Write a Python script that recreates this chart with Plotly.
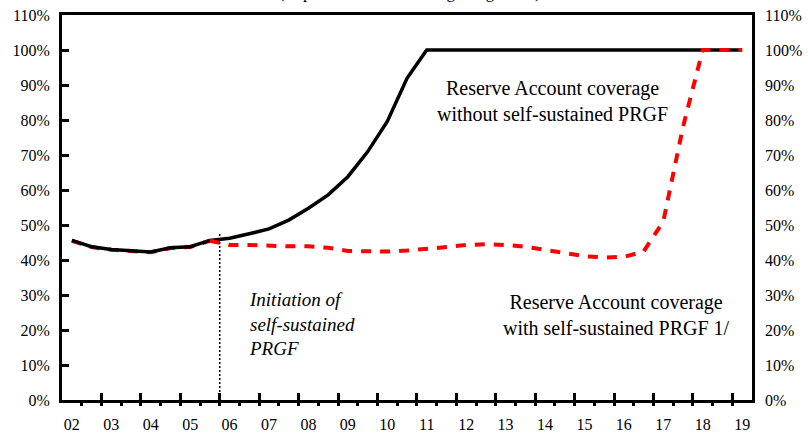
import plotly.graph_objects as go

# ---------------- data ----------------
periods = [2.0, 2.5, 3.0, 3.5, 4.0, 4.5, 5.0, 5.5, 6.0, 6.5, 7.0, 7.5, 8.0, 8.5,
           9.0, 9.5, 10.0, 10.5, 11.0, 11.5, 12.0, 12.5, 13.0, 13.5, 14.0, 14.5,
           15.0, 15.5, 16.0, 16.5, 17.0, 17.5, 18.0, 18.5, 19.0]

without_self_sustained = [45.6, 43.8, 43.0, 42.7, 42.3, 43.5, 43.8, 45.6, 46.2, 47.5,
                          48.9, 51.4, 54.8, 58.6, 63.8, 70.9, 79.6, 91.9, 100.0, 100.0,
                          100.0, 100.0, 100.0, 100.0, 100.0, 100.0, 100.0, 100.0, 100.0,
                          100.0, 100.0, 100.0, 100.0, 100.0, 100.0]

with_self_sustained = [45.5, 43.7, 42.9, 42.6, 42.2, 43.4, 43.7, 45.5, 44.3, 44.3,
                       44.0, 43.9, 43.9, 43.5, 42.6, 42.4, 42.4, 42.7, 43.1, 43.7,
                       44.3, 44.5, 44.3, 43.8, 42.9, 41.9, 41.1, 40.7, 40.9, 42.4,
                       51.0, 78.0, 100.0, 100.0, 100.0]

year_labels = ["02", "03", "04", "05", "06", "07", "08", "09", "10", "11",
               "12", "13", "14", "15", "16", "17", "18", "19"]
label_positions = [2, 3, 4, 5, 6, 7, 8, 9, 10, 11, 12, 13, 14, 15, 16, 17, 18, 19]

y_ticks = [0, 10, 20, 30, 40, 50, 60, 70, 80, 90, 100, 110]
y_tick_text = ["0%", "10%", "20%", "30%", "40%", "50%", "60%", "70%", "80%",
               "90%", "100%", "110%"]

initiation_period = 5.75
initiation_top = 48
split_index = 7  # red series drawn on top of black from 05.5 onwards

FONT = "Liberation Serif, Times New Roman, serif"

# tick boundaries between semi-annual categories
boundaries = [p + 0.25 for p in periods[:-1]]
major_boundaries = [p + 0.75 for p in label_positions[:-1]]

fig = go.Figure()

# red (early part, under black)
fig.add_trace(go.Scatter(
    x=periods[:split_index + 1], y=with_self_sustained[:split_index + 1],
    mode="lines", line=dict(color="#FF0000", width=4, dash="10px,9px"),
    showlegend=False, hoverinfo="skip"))

# black
fig.add_trace(go.Scatter(
    x=periods, y=without_self_sustained, mode="lines",
    line=dict(color="black", width=3.5), showlegend=False))

# red (on top)
fig.add_trace(go.Scatter(
    x=periods[split_index:], y=with_self_sustained[split_index:],
    mode="lines", line=dict(color="#FF0000", width=4, dash="10px,9px"),
    showlegend=False))

# empty traces so the overlay axes are drawn
fig.add_trace(go.Scatter(x=[], y=[], xaxis="x2", yaxis="y", showlegend=False))
fig.add_trace(go.Scatter(x=[], y=[], xaxis="x3", yaxis="y", showlegend=False))
fig.add_trace(go.Scatter(x=[], y=[], xaxis="x", yaxis="y2", showlegend=False))

xr = [1.75, 19.25]
fig.update_layout(
    template="none",
    width=808, height=433,
    margin=dict(l=62, r=56, t=15, b=33, autoexpand=False),
    paper_bgcolor="white", plot_bgcolor="white",
    font=dict(family=FONT, size=16, color="black"),
    showlegend=False,
    xaxis=dict(range=xr, tickmode="array", tickvals=label_positions,
               ticktext=year_labels, ticks="", showgrid=False, zeroline=False,
               showline=True, linecolor="black", linewidth=3, mirror=True,
               automargin=False,
               ticklabelstandoff=8, tickfont=dict(size=16, family=FONT)),
    xaxis2=dict(range=xr, overlaying="x", anchor="y", side="bottom",
                tickmode="array", tickvals=boundaries, ticks="outside",
                ticklen=5, tickwidth=3, tickcolor="black", automargin=False,
                showticklabels=False, showgrid=False, zeroline=False,
                showline=False),
    xaxis3=dict(range=xr, overlaying="x", anchor="y", side="bottom",
                tickmode="array", tickvals=major_boundaries, ticks="inside",
                ticklen=7, tickwidth=3, tickcolor="black", automargin=False,
                showticklabels=False, showgrid=False, zeroline=False,
                showline=False),
    yaxis=dict(range=[0, 110], tickmode="array", tickvals=y_ticks,
               ticktext=y_tick_text, ticks="inside", ticklen=7, tickwidth=3,
               tickcolor="black", showgrid=False, zeroline=False,
               showline=True, linecolor="black", linewidth=3, mirror=True,
               automargin=False,
               ticklabelstandoff=6, tickfont=dict(size=16, family=FONT)),
    yaxis2=dict(range=[0, 110], overlaying="y", side="right", anchor="x",
                tickmode="array", tickvals=y_ticks, ticktext=y_tick_text,
                ticks="", showgrid=False, zeroline=False, showline=False,
                automargin=False,
                ticklabelstandoff=12, tickfont=dict(size=16, family=FONT)),
)

# dotted vertical line marking initiation
fig.add_shape(type="line", xref="x", yref="y",
              x0=initiation_period, x1=initiation_period, y0=0, y1=initiation_top,
              line=dict(color="black", width=1.5, dash="2px,2px"))

fig.add_annotation(text="Reserve Account coverage<br>without self-sustained PRGF",
                   xref="x", yref="y", x=14.19, y=85.4, showarrow=False,
                   font=dict(family=FONT, size=20, color="black"), align="center")
fig.add_annotation(text="Reserve Account coverage<br>with self-sustained PRGF 1/",
                   xref="x", yref="y", x=15.82, y=24.4, showarrow=False,
                   font=dict(family=FONT, size=20, color="black"), align="center")
fig.add_annotation(text="<i>Initiation of<br>self-sustained<br>PRGF</i>",
                   xref="x", yref="y", x=6.43, y=21.6, xanchor="left",
                   showarrow=False, align="left",
                   font=dict(family=FONT, size=19, color="black"))
# title, mostly cut off at the top edge of the picture
fig.add_annotation(text="(In percent of outstanding obligations)",
                   xref="paper", yref="paper", x=0.505, y=1 + 23 / 385,
                   yanchor="middle", showarrow=False,
                   font=dict(family=FONT, size=17, color="black"))

fig.write_html("out.html",
               config={"displayModeBar": False},
               post_script="document.body.style.margin='0';"
                           "document.body.style.overflow='hidden';")
